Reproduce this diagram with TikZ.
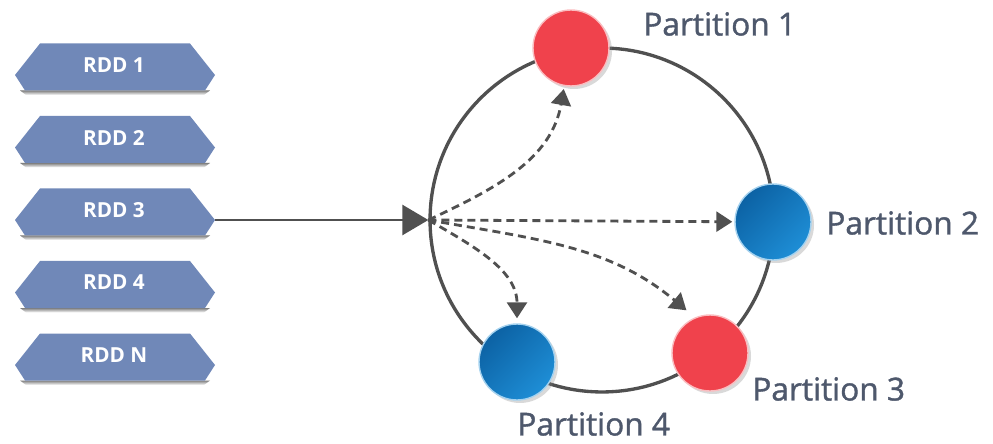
\documentclass[tikz,border=0pt]{standalone}
\usepackage{fontspec}
\setmainfont{Open Sans}
\newfontfamily\partfont{Open Sans}[FakeBold=1.2]
\usepackage{tikz}
\usetikzlibrary{arrows.meta}
\usetikzlibrary{shadows}

\definecolor{rddblue}{RGB}{112,136,184}
\definecolor{ringgray}{RGB}{80,80,80}
\definecolor{partred}{RGB}{240,66,76}
\definecolor{partbluedark}{RGB}{12,98,164}
\definecolor{partbluelight}{RGB}{30,142,214}
\definecolor{labelgray}{RGB}{78,88,108}

\tikzset{
    rddlabel/.style={text=white, inner sep=0pt, font=\bfseries\fontsize{11.8}{12}\selectfont},
    part/.style={shape=circle, minimum size=1.52cm, inner sep=0pt, line width=0.8pt,
        drop shadow={opacity=0.3, shadow xshift=0.06cm, shadow yshift=-0.06cm}},
    redpart/.style={part, draw=partred!35!white, fill=partred},
    bluepart/.style={part, draw=partbluelight!40!white, top color=partbluedark,
        bottom color=partbluelight, shading angle=45},
    partlabel/.style={anchor=west, inner sep=0pt, text=labelgray, font=\partfont\fontsize{18}{20}\selectfont},
    mainarrow/.style={draw=ringgray, line width=1.5pt, -{Triangle[length=0.52cm, width=0.6cm]}},
    dasharrow/.style={draw=ringgray, line width=1.6pt, dash pattern=on 0.16cm off 0.1cm,
        -{Triangle[length=0.32cm, width=0.4cm]}}
}

\begin{document}
\begin{tikzpicture}[x=0.02cm, y=0.02cm]
                    \useasboundingbox (0,0) rectangle (993,443);

                    % the stack of RDDs on the left
                    \foreach \lab [count=\i] in {1,2,3,4,N} {
                        \pgfmathsetmacro{\y}{376-72.5*(\i-1)}
                        \shade[top color=black!50, bottom color=white] (20,\y-23.5) -- (210,\y-23.5) -- (204,\y-28) -- (26,\y-28) -- cycle;
                        \fill[rddblue] (40,\y+23.5) -- (190,\y+23.5) -- (215,\y-8) -- (205,\y-23.5) -- (25,\y-23.5) -- (15,\y-8) -- cycle;
                        \node[rddlabel] (rdd\i) at (114,\y+2) {RDD \lab};
                        \coordinate (tip\i) at (215,\y-8);
                    }

                    \node[shape=circle, draw=ringgray, line width=1.9pt, minimum size=6.88cm, inner sep=0pt] (ring) at (602,223) {};

                    \node[redpart] (p1) at (571,395) {};
                    \node[bluepart] (p2) at (773,221) {};
                    \node[redpart] (p3) at (710,90) {};
                    \node[bluepart] (p4) at (517,81) {};

                    \node[partlabel] (lab1) at (643,419) {Partition 1};
                    \node[partlabel] (lab2) at (826,220) {Partition 2};
                    \node[partlabel] (lab3) at (752,54) {Partition 3};
                    \node[partlabel] (lab4) at (517,19) {Partition 4};

                    \draw[mainarrow] (tip3) -- (ring.west);
                    \draw[dasharrow, shorten >=0.06cm] (ring.west) to[out=25, in=-100] (p1);
                    \draw[dasharrow, shorten >=0.04cm] (ring.west) -- (p2);
                    \draw[dasharrow, shorten >=0.22cm] (ring.west) to[out=-10, in=140] (p3.113);
                    \draw[dasharrow, shorten >=0.1cm] (ring.west) to[out=-30, in=90] (p4.north);

\end{tikzpicture}
\end{document}
